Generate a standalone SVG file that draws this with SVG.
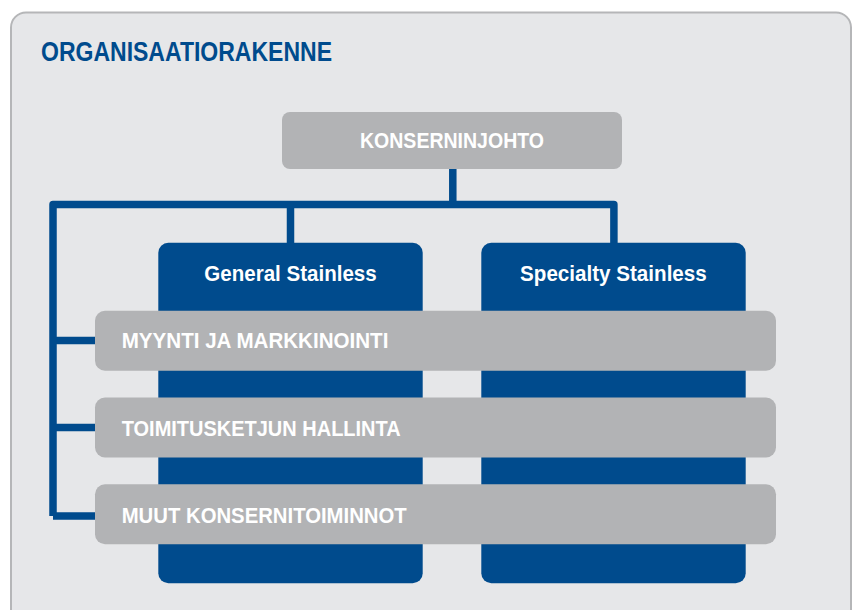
<svg xmlns="http://www.w3.org/2000/svg" width="853" height="610" viewBox="0 0 853 610">
<style>
.t{font-family:"Liberation Sans Narrow","Liberation Sans",Arial,sans-serif;font-weight:bold;fill:#fff}
.gray{fill:#b2b3b5}
.blue{fill:#004b8d}
.conn{fill:none;stroke:#004b8d;stroke-width:7.5;stroke-linejoin:round}
</style>
<rect x="11" y="12.5" width="840" height="620" rx="15" fill="#e6e7e9" stroke="#b5b6b8" stroke-width="2"/>
<text x="41" y="61" class="t" style="fill:#004b8d" font-size="27" textLength="291" lengthAdjust="spacingAndGlyphs">ORGANISAATIORAKENNE</text>
<g id="connectors">
<path class="conn" d="M452.8 168 V204.5 M53 516 V204.5 H613.9 V244 M290.5 204.5 V244 M53 340.5 H96 M53 427.5 H96 M53 516 H96"/>
</g>
<g id="konserninjohto">
<rect class="gray" x="282" y="112" width="340" height="57" rx="8"/>
<text x="452" y="148.3" class="t" font-size="21.5" text-anchor="middle" textLength="184" lengthAdjust="spacingAndGlyphs">KONSERNINJOHTO</text>
</g>
<g id="general">
<rect class="blue" x="158.3" y="242.7" width="264.4" height="340.6" rx="10"/>
<text x="290.5" y="281" class="t" font-size="21.5" text-anchor="middle" textLength="172.4" lengthAdjust="spacingAndGlyphs">General Stainless</text>
</g>
<g id="specialty">
<rect class="blue" x="481.3" y="242.7" width="264.4" height="340.6" rx="10"/>
<text x="613.4" y="281" class="t" font-size="21.5" text-anchor="middle" textLength="186.7" lengthAdjust="spacingAndGlyphs">Specialty Stainless</text>
</g>
<g id="myynti">
<rect class="gray" x="95" y="310.7" width="681" height="60" rx="10"/>
<text x="121.7" y="348.3" class="t" font-size="22" textLength="266.7" lengthAdjust="spacingAndGlyphs">MYYNTI JA MARKKINOINTI</text>
</g>
<g id="toimitusketju">
<rect class="gray" x="95" y="397.5" width="681" height="60" rx="10"/>
<text x="121.7" y="436" class="t" font-size="22" textLength="279" lengthAdjust="spacingAndGlyphs">TOIMITUSKETJUN HALLINTA</text>
</g>
<g id="muut">
<rect class="gray" x="95" y="484.3" width="681" height="60" rx="10"/>
<text x="121.7" y="523.3" class="t" font-size="22" textLength="285" lengthAdjust="spacingAndGlyphs">MUUT KONSERNITOIMINNOT</text>
</g>
</svg>
